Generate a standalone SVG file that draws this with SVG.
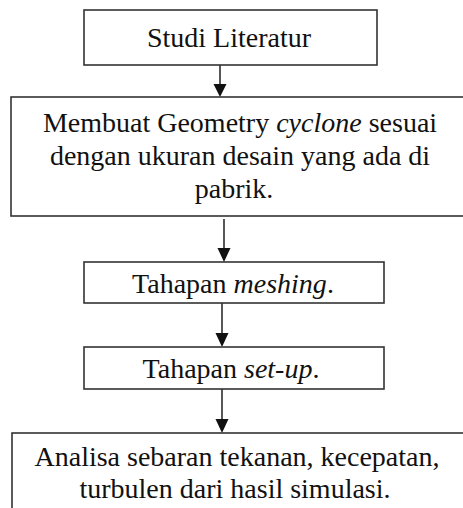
<svg xmlns="http://www.w3.org/2000/svg" width="463" height="508" viewBox="0 0 463 508">
<style>
.box{fill:#fff;stroke:#333;stroke-width:1.6}
.t{font-family:"Liberation Serif","Times New Roman",serif;font-size:28px;fill:#111;text-anchor:middle}
.i{font-style:italic}
.c{stroke:#111;stroke-width:1.4;fill:none}
.h{fill:#111}
</style>
<rect width="463" height="508" fill="#fff"/>
<g id="connectors">
<line class="c" x1="220" y1="65" x2="220" y2="85"/><polygon class="h" points="213.5,84 226.5,84 220,97"/>
<line class="c" x1="224" y1="219" x2="224" y2="250"/><polygon class="h" points="217.5,248 230.5,248 224,262"/>
<line class="c" x1="222" y1="303" x2="222" y2="334"/><polygon class="h" points="215.5,333 228.5,333 222,347"/>
<line class="c" x1="222" y1="389" x2="222" y2="420"/><polygon class="h" points="215.5,419 228.5,419 222,433"/>
</g>
<g id="n1"><rect class="box" x="84" y="10" width="293" height="55"/><text class="t" x="229" y="47">Studi Literatur</text></g>
<g id="n2"><rect class="box" x="11" y="97" width="460" height="119"/>
<text class="t" x="240" y="132">Membuat Geometry <tspan class="i">cyclone</tspan> sesuai</text>
<text class="t" x="240" y="165">dengan ukuran desain yang ada di</text>
<text class="t" x="234" y="198">pabrik.</text></g>
<g id="n3"><rect class="box" x="84" y="262" width="300" height="41"/><text class="t" x="233" y="293">Tahapan <tspan class="i">meshing</tspan>.</text></g>
<g id="n4"><rect class="box" x="84" y="347" width="300" height="42"/><text class="t" x="231" y="378">Tahapan <tspan class="i">set-up</tspan>.</text></g>
<g id="n5"><rect class="box" x="12" y="433" width="460" height="90"/>
<text class="t" x="237" y="466">Analisa sebaran tekanan, kecepatan,</text>
<text class="t" x="235" y="498">turbulen dari hasil simulasi.</text></g>
</svg>
